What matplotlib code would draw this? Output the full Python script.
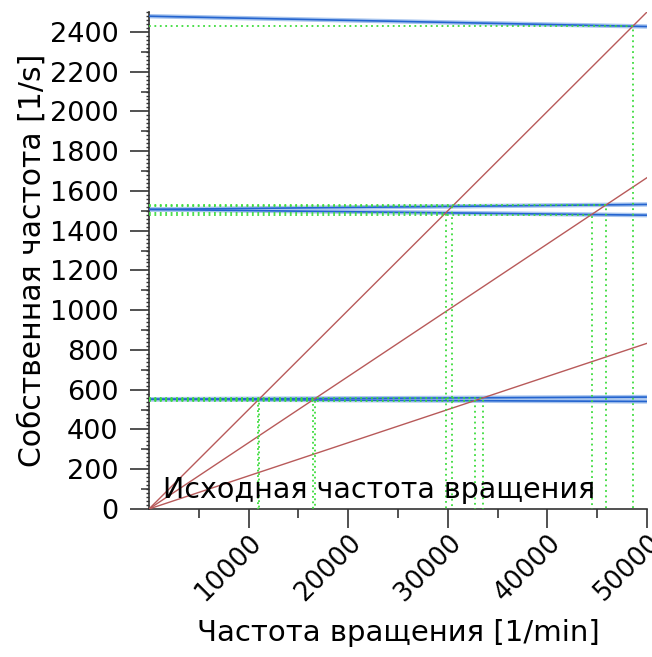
import numpy as np
import matplotlib
matplotlib.use("Agg")
import matplotlib.pyplot as plt
import matplotlib.transforms as mtransforms
from matplotlib.ticker import MultipleLocator, FixedLocator

plt.rcParams['font.family'] = ['DejaVu Sans']

# rotor speed range, 1/min
speed_range = [0, 50000]

# natural frequencies (1/s) of each whirl branch at the start and end of the speed range
freq_start = [552, 552, 1507, 1507, 2479]
freq_end = [541, 563, 1478, 1532, 2427]

# excitation orders (multiples of the rotor speed)
orders = [1, 2, 3]

x_ticks = [10000, 20000, 30000, 40000, 50000]
x_minor_ticks = [5000, 15000, 25000, 35000, 45000]
y_ticks = list(range(0, 2401, 200))

x_label = "Частота вращения [1/min]"
y_label = "Собственная частота [1/s]"
note = "Исходная частота вращения"

fig = plt.figure(figsize=(6.52, 6.57), dpi=100)
ax = fig.add_axes([0.2285, 0.2253, 0.7638, 0.7564])

n = np.array(speed_range, dtype=float)

# natural frequency branches
for f0, f1 in zip(freq_start, freq_end):
    ax.plot(n, [f0, f1], color='#a8c5ee', lw=3.2, solid_capstyle='butt', zorder=2)
    ax.plot(n, [f0, f1], color='#2464cf', lw=1.2, solid_capstyle='butt', zorder=3)

# excitation lines and their crossings with the branches
for k in orders:
    ax.plot(n, k * n / 60.0, color='#b85a5a', lw=1.0, zorder=4)
    for f0, f1 in zip(freq_start, freq_end):
        slope = (f1 - f0) / (n[1] - n[0])
        nc = f0 / (k / 60.0 - slope)
        if n[0] < nc <= n[1]:
            fc = k * nc / 60.0
            ax.plot([0, nc, nc], [fc, fc, 0], color='#3ddc3d', lw=1.3,
                    ls=(0, (1, 2)), zorder=5)

ax.text(1400, 55, note, fontsize=20.5, va='baseline', ha='left', zorder=6)

ax.set_xlim(speed_range)
ax.set_ylim(0, 2500)

for side in ('top', 'right'):
    ax.spines[side].set_visible(False)
for side in ('left', 'bottom'):
    ax.spines[side].set_color('#333333')
    ax.spines[side].set_linewidth(1.2)

ax.set_xticks(x_ticks)
ax.set_xticklabels([str(v) for v in x_ticks], rotation=45, ha='right',
                   va='top', rotation_mode='anchor', fontsize=18.5)
ax.xaxis.set_minor_locator(FixedLocator(x_minor_ticks))
ax.set_yticks(y_ticks)
ax.set_yticklabels([str(v) for v in y_ticks], fontsize=19.5)
ax.yaxis.set_minor_locator(MultipleLocator(20))

shift = mtransforms.ScaledTranslation(-11 / 100, 0, fig.dpi_scale_trans)
for lab in ax.get_xticklabels():
    lab.set_transform(lab.get_transform() + shift)

ax.tick_params(axis='x', which='major', length=14, width=1.2, color='#333333', pad=0.5)
ax.tick_params(axis='x', which='minor', length=6.5, width=1.2, color='#333333')
ax.tick_params(axis='y', which='major', length=14, width=1.2, color='#333333', pad=8)
ax.tick_params(axis='y', which='minor', length=2.5, width=1.0, color='#333333')

# medium ticks every 100 on the frequency axis
sec = ax.secondary_yaxis('left')
sec.set_yticks(list(range(100, 2500, 200)))
sec.set_yticklabels([])
sec.tick_params(axis='y', length=6, width=1.1, color='#333333')
sec.spines['left'].set_visible(False)

ax.set_xlabel(x_label, fontsize=21)
ax.xaxis.set_label_coords(0.5, -0.2213)
ax.set_ylabel(y_label, fontsize=21.5)
ax.yaxis.set_label_coords(-0.2048, 0.5)

fig.savefig('out.png', dpi=100)
